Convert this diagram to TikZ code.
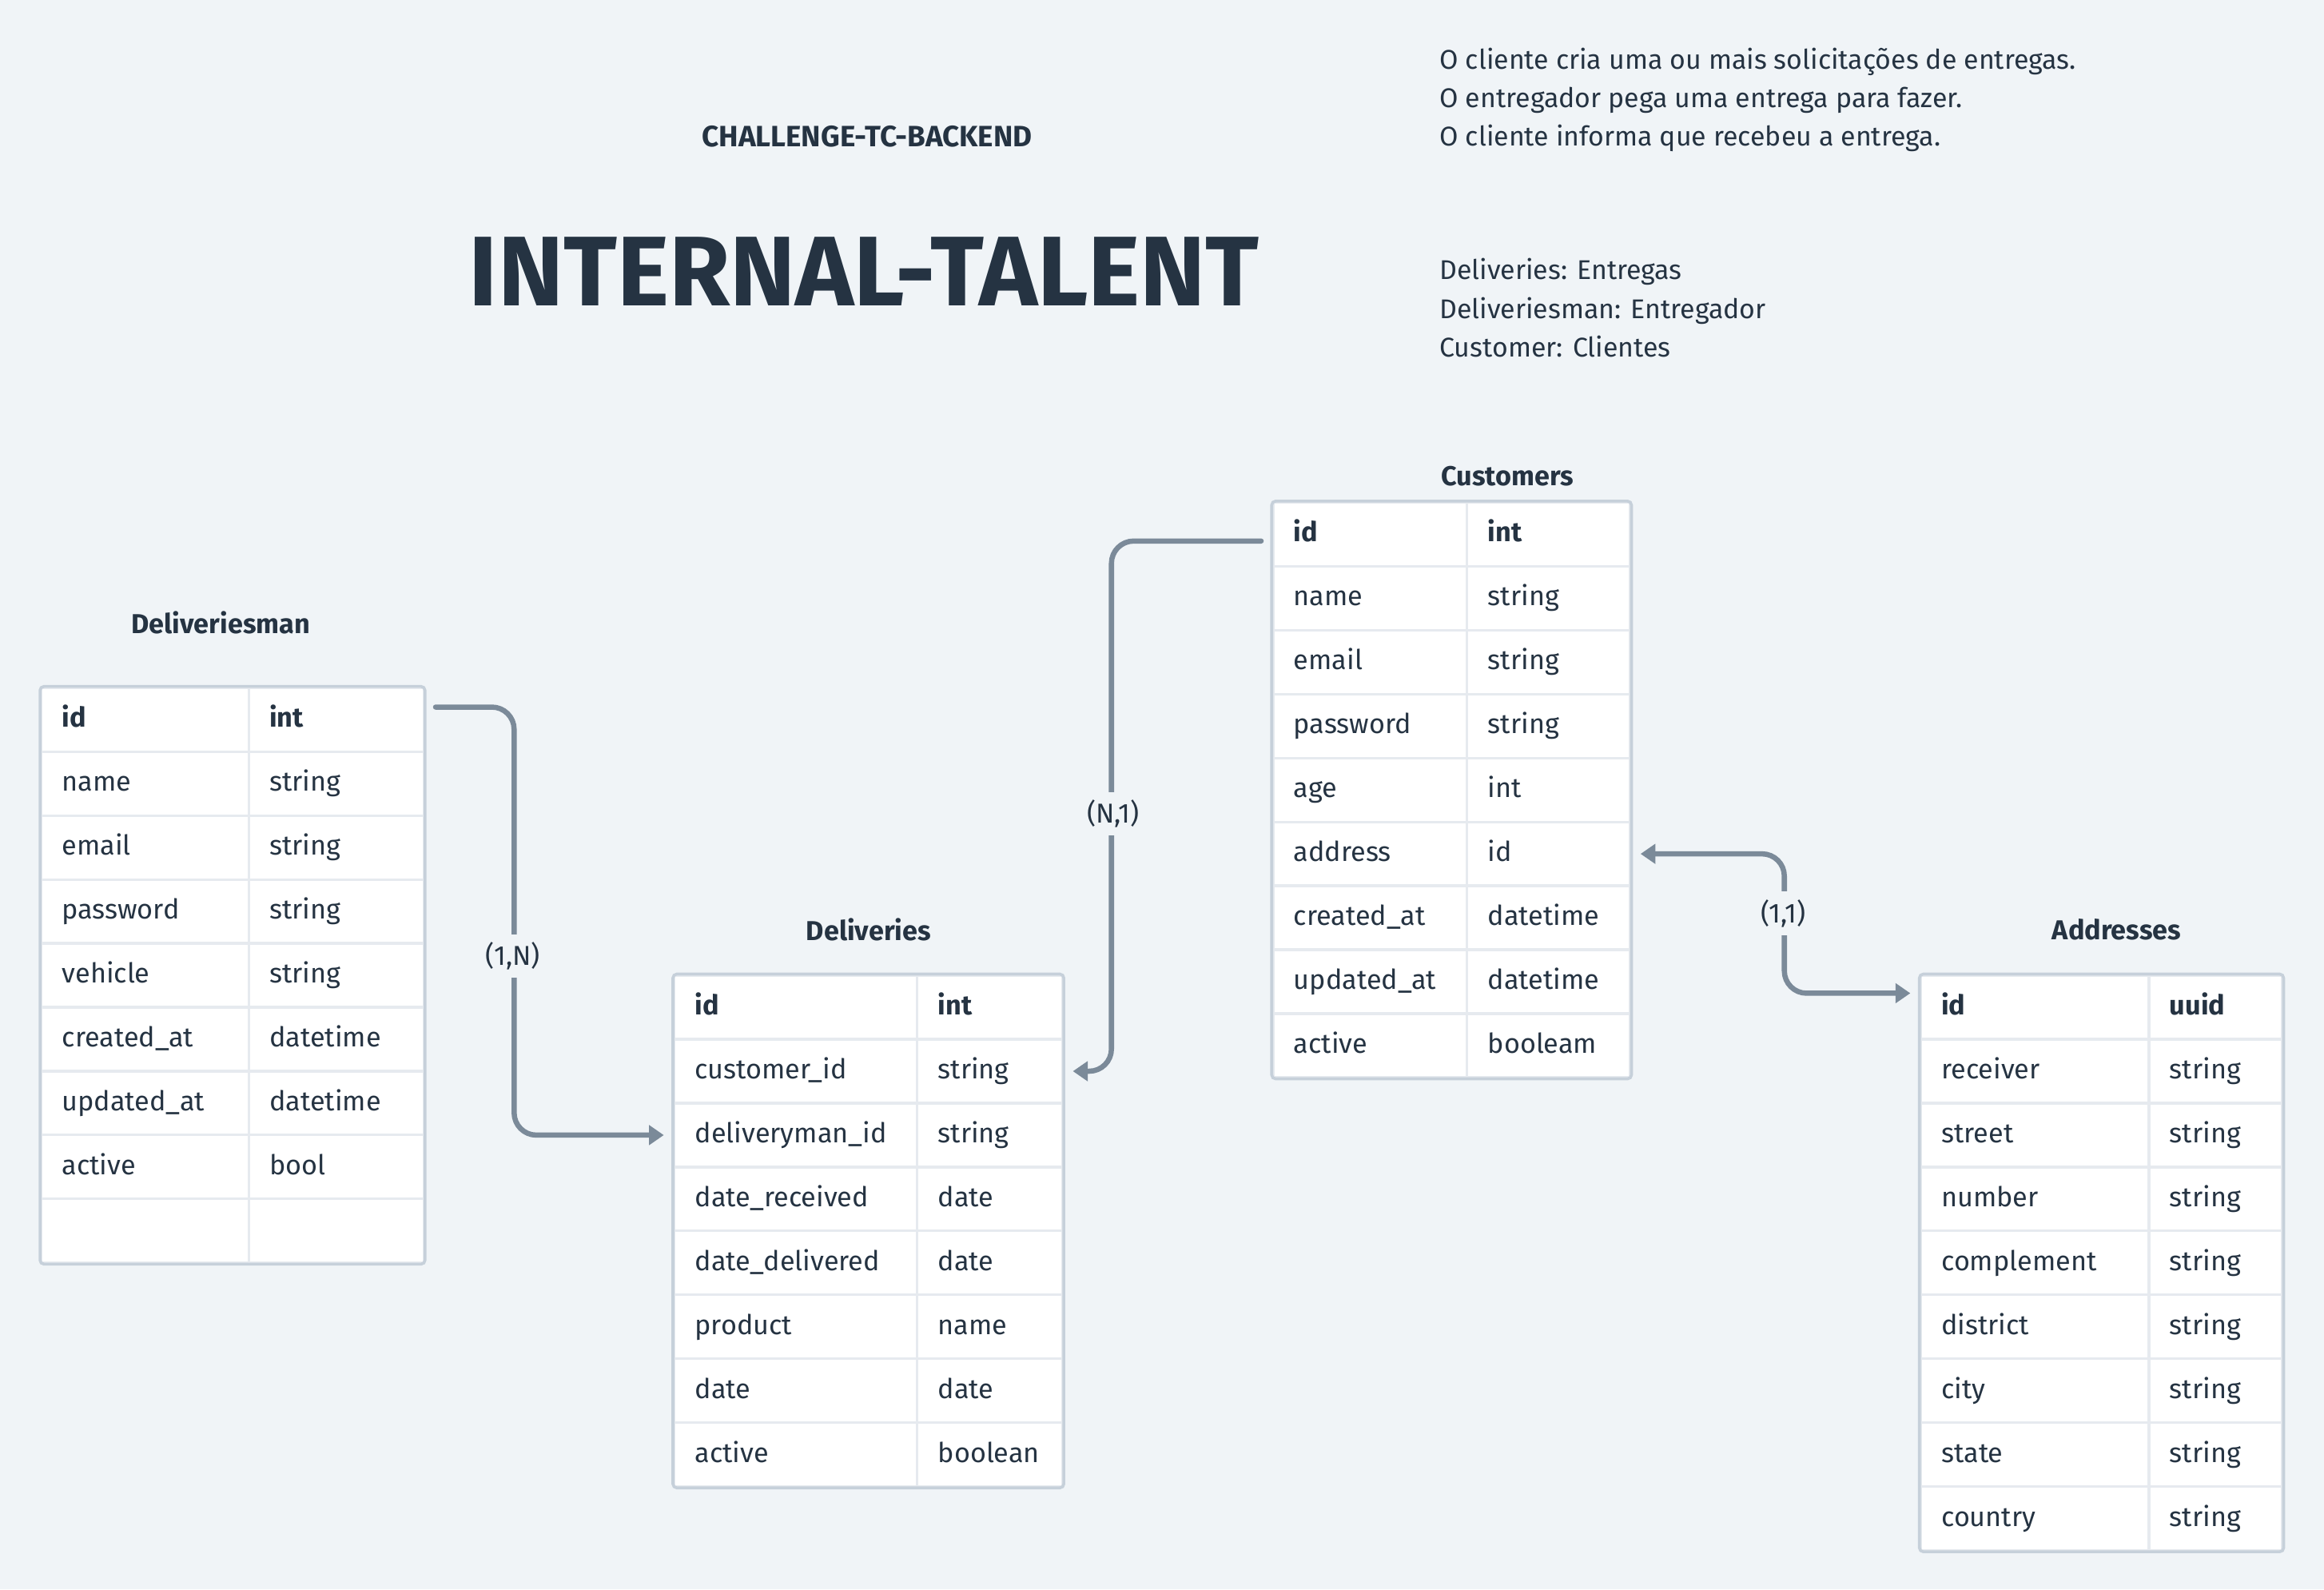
\documentclass[tikz,border=0pt]{standalone}
\usepackage{fontspec}
\setmainfont{Fira Sans}
\usetikzlibrary{arrows.meta,positioning,matrix}
\definecolor{ink}{HTML}{253342}
\definecolor{canvas}{HTML}{F0F4F7}
\definecolor{linkgray}{HTML}{7B8A99}
\definecolor{framegray}{HTML}{C6D0DA}
\definecolor{rowgray}{HTML}{E6EAEF}
\tikzset{
  >={Triangle[length=0.2cm,width=0.26cm]},
  cell/.style={draw=rowgray,line width=1pt,fill=white,outer sep=0pt,inner xsep=0.28cm,inner ysep=0pt,minimum height=0.862cm,text height=1.55ex,text depth=0.45ex,align=left,anchor=center,text=ink,font=\fontsize{10.5}{13}\selectfont},
  table/.style={matrix of nodes,nodes in empty cells,inner sep=0pt,outer sep=0pt,matrix anchor=north west,row sep=-1pt,column sep=-1pt,nodes={cell},row 1/.style={nodes={font=\fontsize{10.5}{13}\selectfont\bfseries}}},
  frame/.style={draw=framegray,line width=1.1pt,rounded corners=1.5pt},
  tabletitle/.style={text=ink,font=\fontsize{10.5}{13}\selectfont\bfseries},
  note/.style={text=ink,align=left,inner sep=0pt,anchor=north west,font=\fontsize{10.4}{14.8}\selectfont},
  link/.style={->,line width=2pt,draw=linkgray,rounded corners=0.3cm,line cap=round},
  cardinality/.style={fill=canvas,text=ink,inner xsep=2pt,inner ysep=3pt,font=\fontsize{10.5}{13}\selectfont}
}
\begin{document}
\begin{tikzpicture}
\useasboundingbox (0,0) rectangle (31.36,-21.44);
\fill[canvas] (0,0) rectangle (31.36,-21.44);
% headings and notes
\node[text=ink,font=\fontsize{11.3}{13}\selectfont\bfseries] (project) at (11.70,-1.84) {CHALLENGE-TC-BACKEND};
\node[text=ink,font=\fontsize{38}{44}\selectfont\bfseries] (brand) at (11.66,-3.66) {INTERNAL-TALENT};
\node[note] (story) at (19.42,-0.64) {O cliente cria uma ou mais solicitações de entregas.\\O entregador pega uma entrega para fazer.\\O cliente informa que recebeu a entrega.};
\node[note] (glossary) at (19.42,-3.48) {Deliveries: Entregas\\Deliveriesman: Entregador\\Customer: Clientes};
% tables
\matrix[table,column 1/.style={nodes={text width=2.24cm}},column 2/.style={nodes={text width=1.80cm}}] (dm) at (0.54,-9.26) {
id & int \\
name & string \\
email & string \\
password & string \\
vehicle & string \\
created\_at & datetime \\
updated\_at & datetime \\
active & bool \\
 & \\
};
\draw[frame] (dm.north west) rectangle (dm.south east);
\node[tabletitle] (dmtitle) at (2.98,-8.40) {Deliveriesman};
\matrix[table,column 1/.style={nodes={text width=2.72cm}},column 2/.style={nodes={text width=1.40cm}}] (dl) at (9.08,-13.14) {
id & int \\
customer\_id & string \\
deliveryman\_id & string \\
date\_received & date \\
date\_delivered & date \\
product & name \\
date & date \\
active & boolean \\
};
\draw[frame] (dl.north west) rectangle (dl.south east);
\node[tabletitle] (dltitle) at (11.72,-12.54) {Deliveries};
\matrix[table,column 1/.style={nodes={text width=2.06cm}},column 2/.style={nodes={text width=1.64cm}}] (cu) at (17.16,-6.76) {
id & int \\
name & string \\
email & string \\
password & string \\
age & int \\
address & id \\
created\_at & datetime \\
updated\_at & datetime \\
active & booleam \\
};
\draw[frame] (cu.north west) rectangle (cu.south east);
\node[tabletitle] (cutitle) at (20.34,-6.42) {Customers};
\matrix[table,column 1/.style={nodes={text width=2.52cm}},column 2/.style={nodes={text width=1.24cm}}] (ad) at (25.90,-13.14) {
id & uuid \\
receiver & string \\
street & string \\
number & string \\
complement & string \\
district & string \\
city & string \\
state & string \\
country & string \\
};
\draw[frame] (ad.north west) rectangle (ad.south east);
\node[tabletitle] (adtitle) at (28.56,-12.54) {Addresses};
% relations
\draw[link] ([xshift=0.16cm,yshift=0.17cm]dm-1-2.east) -| ([xshift=-2.16cm]dl-3-1.west) -- ([xshift=-0.14cm]dl-3-1.west);
\draw[link] ([xshift=-0.16cm,yshift=-0.09cm]cu-1-1.west) -| ([xshift=0.66cm]dl-2-2.east) -- ([xshift=0.14cm]dl-2-2.east);
\draw[link,<->] ([xshift=0.14cm]cu-6-2.east) -| ([xshift=-1.84cm,yshift=0.19cm]ad-1-1.west) -- ([xshift=-0.14cm,yshift=0.19cm]ad-1-1.west);
\node[cardinality] (onemany) at (6.92,-12.90) {(1,N)};
\node[cardinality] (manyone) at (15.02,-10.98) {(N,1)};
\node[cardinality] (oneone) at (24.06,-12.32) {(1,1)};
\end{tikzpicture}
\end{document}
